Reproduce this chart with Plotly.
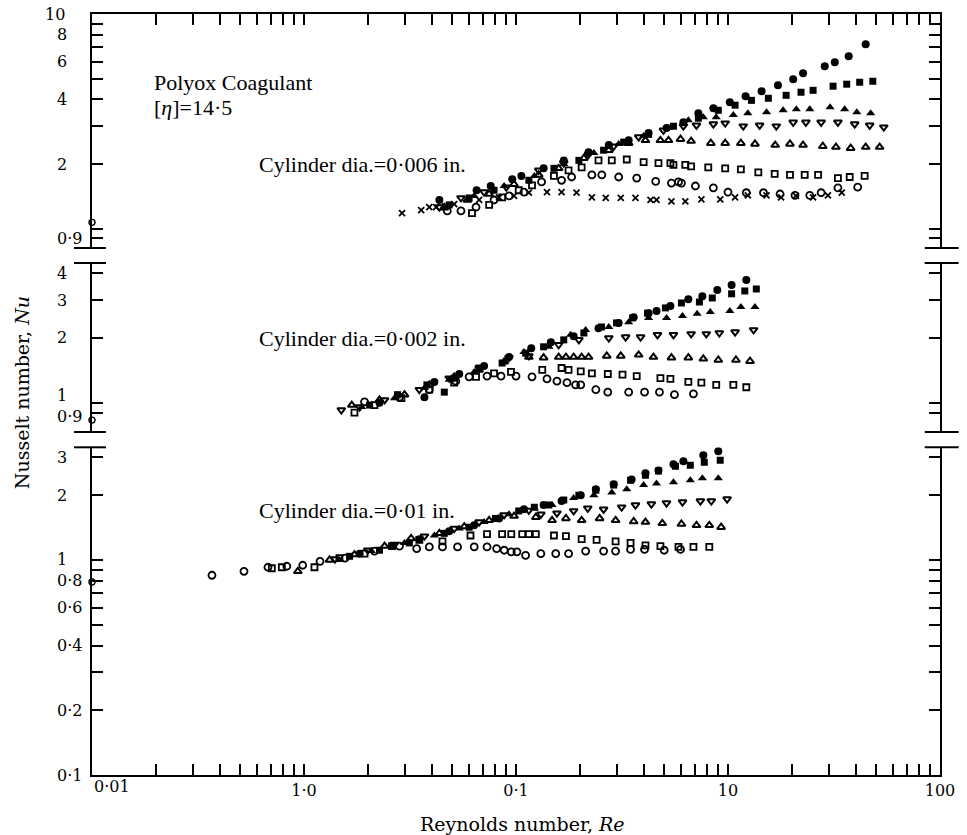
import math
import plotly.graph_objects as go

FONT = "Liberation Serif"
FONT2 = "DejaVu Serif"

# ---------------- data : Cylinder dia. = 0.006 in. (top panel) ----------------
T_FC_RE = [0.435,0.652,0.76,0.96,1.06,1.35,1.68,2.20,2.74,3.40,4.22,5.13,6.16,7.25,8.53,10.2,12.1,14.4,17.2,20.3,22.6,28.6,31.9,37.1,44.6]
T_FC_NU = [1.36,1.51,1.58,1.70,1.76,1.91,2.08,2.27,2.45,2.58,2.79,2.94,3.13,3.45,3.64,3.88,4.14,4.37,4.66,4.97,5.29,5.71,5.96,6.35,7.22]
T_FS_RE = [0.484,0.601,0.788,1.15,1.51,1.98,2.59,3.22,4.22,5.53,7.25,9.0,10.8,12.9,15.5,18.8,22.1,25.2,31.3,36.3,41.8,48.2]
T_FS_NU = [1.29,1.39,1.51,1.68,1.91,2.08,2.32,2.53,2.75,3.00,3.27,3.56,3.76,3.96,4.05,4.18,4.32,4.41,4.61,4.71,4.81,4.86]
T_FT_RE = [0.459,0.635,0.879,1.22,1.68,2.33,3.05,4.0,5.24,6.5,7.65,8.8,10.6,12.4,15.2,18.2,21.0,24.3,30.3,35.5,40.5,47.1]
T_FT_NU = [1.27,1.42,1.58,1.76,2.0,2.25,2.48,2.70,2.94,3.20,3.30,3.30,3.38,3.45,3.49,3.56,3.60,3.60,3.68,3.60,3.49,3.45]
T_OD_RE = [0.435,0.55,0.707,0.90,1.28,1.68,2.20,2.89,3.79,4.96,6.16,7.1,8.53,9.7,11.8,14.1,16.9,20.3,23.3,27.5,33.0,39.6,46.6,54.3]
T_OD_NU = [1.26,1.39,1.48,1.56,1.87,2.02,2.22,2.42,2.67,2.87,3.0,3.03,3.07,3.10,3.0,3.03,3.0,3.13,3.13,3.13,3.13,3.07,3.03,2.97]
T_OT_RE = [0.459,0.59,0.747,0.979,1.28,1.59,2.09,2.74,3.40,4.08,4.8,5.24,5.97,6.7,8.3,9.7,11.5,13.4,16.7,19.6,22.6,28.0,32.3,37.9,44.6,51.9]
T_OT_NU = [1.25,1.36,1.45,1.61,1.78,1.91,2.13,2.32,2.50,2.58,2.58,2.58,2.61,2.56,2.50,2.50,2.50,2.48,2.45,2.48,2.45,2.42,2.40,2.37,2.40,2.40]
T_OS_RE = [0.62,0.747,0.86,1.03,1.19,1.51,1.77,2.04,2.45,2.83,3.33,4.0,4.7,5.35,5.53,6.29,6.7,8.07,9.7,11.5,13.9,16.6,19.6,23.0,26.6,33.0,37.5,44.1]
T_OS_NU = [1.18,1.29,1.40,1.51,1.59,1.76,1.87,1.93,2.08,2.08,2.10,2.04,2.02,2.02,1.98,1.98,1.95,1.93,1.91,1.89,1.83,1.80,1.78,1.78,1.78,1.72,1.74,1.76]
T_OC_RE = [0.474,0.55,0.648,0.788,0.927,1.09,1.32,1.64,1.83,2.28,2.54,3.05,3.71,4.56,5.41,5.84,6.03,7.02,8.53,10.0,12.2,14.7,17.6,20.7,24.3,27.5,33.0,40.9]
T_OC_NU = [1.21,1.21,1.26,1.36,1.42,1.48,1.65,1.68,1.74,1.78,1.78,1.74,1.72,1.66,1.63,1.65,1.63,1.58,1.55,1.48,1.47,1.47,1.45,1.43,1.43,1.47,1.55,1.56]
T_XX_RE = [0.29,0.357,0.39,0.42,0.464,0.511,0.67,0.832,0.979,1.15,1.40,1.64,1.93,2.28,2.65,3.12,3.66,4.31,4.60,5.41,6.29,7.49,9.19,10.8,12.4,15.2,17.8,20.9,25.2,29.6,34.4]
T_XX_NU = [1.18,1.22,1.26,1.26,1.27,1.30,1.36,1.40,1.42,1.47,1.48,1.48,1.47,1.40,1.39,1.39,1.39,1.36,1.36,1.34,1.34,1.37,1.37,1.40,1.43,1.43,1.40,1.42,1.40,1.43,1.47]

# ---------------- data : Cylinder dia. = 0.002 in. (middle panel) ----------------
M_FC_RE = [0.227,0.37,0.412,0.54,0.707,0.927,1.18,1.46,1.87,2.45,3.05,3.59,4.22,4.6,5.35,6.5,7.57,8.9,10.4,12.2]
M_FC_NU = [1.00,1.06,1.25,1.36,1.48,1.63,1.79,1.91,2.04,2.22,2.35,2.50,2.61,2.67,2.82,3.03,3.13,3.34,3.53,3.72]
M_FS_RE = [0.204,0.276,0.38,0.459,0.511,0.67,0.86,1.11,1.35,1.68,2.09,2.53,2.98,3.55,4.17,5.07,6.03,7.33,8.43,10.4,12.0,13.6]
M_FS_NU = [0.975,1.09,1.21,1.12,1.30,1.45,1.53,1.70,1.82,1.96,2.11,2.25,2.35,2.48,2.61,2.76,2.91,2.94,3.07,3.21,3.31,3.38]
M_FT_RE = [0.187,0.267,0.37,0.484,0.635,0.879,1.09,1.43,1.81,2.13,2.74,3.40,4.22,5.13,6.1,7.15,8.25,10.2,11.5,13.4]
M_FT_NU = [0.955,1.05,1.17,1.28,1.39,1.55,1.72,1.82,2.07,2.18,2.25,2.37,2.48,2.48,2.53,2.59,2.64,2.67,2.79,2.79]
M_OD_RE = [0.150,0.183,0.24,0.35,0.484,0.67,0.927,1.15,1.59,1.98,2.74,3.29,3.87,4.65,5.53,6.7,7.9,9.1,10.8,13.2]
M_OD_NU = [0.925,0.955,1.03,1.15,1.30,1.45,1.62,1.65,1.86,1.96,2.0,2.02,2.02,2.07,2.07,2.09,2.09,2.11,2.13,2.18]
M_OT_RE = [0.168,0.227,0.298,0.39,0.511,0.67,0.879,1.15,1.35,1.59,1.72,1.87,2.04,2.20,2.68,3.12,3.79,4.45,5.41,6.5,7.65,9.0,10.9,12.7]
M_OT_NU = [0.975,1.03,1.09,1.21,1.32,1.42,1.55,1.63,1.62,1.63,1.63,1.63,1.63,1.63,1.65,1.65,1.67,1.63,1.62,1.62,1.60,1.58,1.58,1.56]
M_OS_RE = [0.173,0.215,0.288,0.39,0.511,0.648,0.788,0.947,1.33,1.64,1.77,2.02,2.28,2.71,3.18,3.71,4.80,5.35,6.5,7.49,8.8,10.6,12.2]
M_OS_NU = [0.90,0.975,1.05,1.15,1.24,1.32,1.37,1.39,1.42,1.45,1.42,1.40,1.37,1.36,1.35,1.33,1.30,1.29,1.25,1.24,1.21,1.21,1.18]
M_OC_RE = [0.193,0.282,0.39,0.52,0.601,0.73,0.85,1.0,1.19,1.40,1.56,1.74,1.91,2.02,2.38,2.71,3.40,4.04,4.75,5.59,6.87]
M_OC_NU = [1.01,1.06,1.15,1.26,1.32,1.33,1.33,1.33,1.32,1.29,1.26,1.24,1.21,1.21,1.15,1.12,1.12,1.12,1.12,1.09,1.10]

# ---------------- data : Cylinder dia. = 0.01 in. (bottom panel) ----------------
B_FC_RE = [0.183,0.26,0.35,0.484,0.635,0.832,1.09,1.35,1.64,2.02,2.38,2.89,3.51,4.08,4.70,5.53,6.16,7.65,9.0]
B_FC_NU = [1.07,1.16,1.25,1.36,1.45,1.56,1.72,1.80,1.88,2.0,2.13,2.25,2.37,2.53,2.61,2.79,2.88,3.07,3.20]
B_FS_RE = [0.164,0.227,0.314,0.459,0.601,0.80,1.03,1.22,1.43,1.68,1.98,2.38,2.89,3.47,4.08,4.70,5.65,6.64,7.73,9.19]
B_FS_NU = [1.04,1.11,1.20,1.33,1.42,1.56,1.69,1.76,1.80,1.90,2.0,2.11,2.23,2.35,2.48,2.59,2.73,2.76,2.85,2.91]
B_FT_RE = [0.147,0.208,0.298,0.412,0.54,0.707,0.927,1.22,1.48,1.87,2.33,2.83,3.33,4.0,4.6,5.53,6.64,7.57,9.0]
B_FT_NU = [1.0,1.10,1.20,1.30,1.40,1.50,1.63,1.74,1.80,1.94,2.0,2.06,2.13,2.23,2.27,2.30,2.35,2.40,2.40]
B_OD_RE = [0.14,0.20,0.267,0.37,0.511,0.67,0.879,1.15,1.31,1.56,1.87,2.18,2.59,3.15,3.66,4.35,5.13,6.1,7.41,8.34,9.9]
B_OD_NU = [1.01,1.11,1.18,1.29,1.40,1.50,1.62,1.70,1.63,1.65,1.69,1.74,1.72,1.76,1.80,1.82,1.84,1.86,1.88,1.88,1.92]
B_OT_RE = [0.0935,0.132,0.173,0.24,0.32,0.435,0.57,0.747,0.979,1.24,1.48,1.72,2.04,2.48,2.95,3.59,4.08,4.90,6.03,7.1,8.16,9.28]
B_OT_NU = [0.886,1.0,1.06,1.16,1.26,1.33,1.43,1.53,1.60,1.58,1.53,1.56,1.53,1.56,1.53,1.51,1.50,1.48,1.47,1.45,1.45,1.42]
B_OS_RE = [0.0705,0.0786,0.112,0.147,0.193,0.26,0.35,0.45,0.61,0.73,0.86,0.95,1.07,1.15,1.24,1.51,1.72,2.04,2.40,2.95,3.47,4.08,4.80,5.84,6.87,8.16]
B_OS_NU = [0.915,0.925,0.925,1.02,1.07,1.16,1.24,1.22,1.30,1.32,1.32,1.32,1.32,1.32,1.32,1.30,1.29,1.25,1.24,1.22,1.20,1.17,1.16,1.15,1.15,1.15]
B_OC_RE = [0.0368,0.0521,0.0676,0.083,0.0986,0.119,0.156,0.215,0.282,0.34,0.39,0.45,0.53,0.635,0.73,0.81,0.88,0.95,1.01,1.11,1.31,1.54,1.77,2.13,2.59,2.95,3.47,4.04,5.0,5.97]
B_OC_NU = [0.849,0.886,0.925,0.935,0.945,0.986,1.02,1.10,1.16,1.13,1.15,1.15,1.15,1.15,1.15,1.13,1.11,1.09,1.09,1.05,1.07,1.07,1.07,1.10,1.10,1.10,1.12,1.12,1.11,1.12]

# open circles sitting on the left axis of each panel
AXIS_RE = [0.01]
AXIS_NU_TOP = [1.07]
AXIS_NU_MID = [0.83]
AXIS_NU_BOT = [0.79]

# ---------------- axis ticks / labels ----------------
X_TICKS = [0.01,0.02,0.03,0.04,0.05,0.06,0.07,0.08,0.09,
           0.1,0.2,0.3,0.4,0.5,0.6,0.7,0.8,0.9,
           1,2,3,4,5,6,7,8,9,
           10,20,30,40,50,60,70,80,90,100]
X_LABELS = [""]*9 + ["1·0"] + [""]*8 + ["0·1"] + [""]*8 + ["10"] + [""]*8 + ["100"]
X_FIRST_LABEL = "0·01"

YT_TICKS = [0.9,1,2,3,4,5,6,7,8,9,10]
YT_LAB_VALS = [10, 8, 6, 4, 2, 0.9]
YT_LABELS = ["10", "8", "6", "4", "2", "0·9"]
YM_TICKS = [0.9,1,2,3,4]
YM_LAB_VALS = [4, 3, 2, 1.08, 0.86]
YM_LABELS = ["4", "3", "2", "1", "0·9"]
YB_TICKS = [0.1,0.2,0.3,0.4,0.5,0.6,0.7,0.8,0.9,1,2,3]
YB_LAB_VALS = [3, 2, 1, 0.8, 0.6, 0.4, 0.2, 0.1]
YB_LABELS = ["3", "2", "1", "0·8", "0·6", "0·4", "0·2", "0·1"]

STYLES = {
    "fc": dict(symbol="circle", size=8, line=dict(width=0)),
    "fs": dict(symbol="square", size=7, line=dict(width=0)),
    "ft": dict(symbol="triangle-up", size=8, line=dict(width=0)),
    "od": dict(symbol="triangle-down-open", size=7, line=dict(width=2)),
    "ot": dict(symbol="triangle-up-open", size=7, line=dict(width=2)),
    "os": dict(symbol="square-open", size=6, line=dict(width=1.8)),
    "oc": dict(symbol="circle-open", size=7, line=dict(width=1.8)),
    "xx": dict(symbol="x-thin-open", size=6, line=dict(width=1.8)),
}

PANELS = {"top": ("x2", "y"), "mid": ("x", "y2"), "bot": ("x", "y3")}

DATA = [
    ("top", "fc", T_FC_RE, T_FC_NU), ("top", "fs", T_FS_RE, T_FS_NU),
    ("top", "ft", T_FT_RE, T_FT_NU), ("top", "od", T_OD_RE, T_OD_NU),
    ("top", "ot", T_OT_RE, T_OT_NU), ("top", "os", T_OS_RE, T_OS_NU),
    ("top", "oc", T_OC_RE, T_OC_NU), ("top", "xx", T_XX_RE, T_XX_NU),
    ("mid", "fc", M_FC_RE, M_FC_NU), ("mid", "fs", M_FS_RE, M_FS_NU),
    ("mid", "ft", M_FT_RE, M_FT_NU), ("mid", "od", M_OD_RE, M_OD_NU),
    ("mid", "ot", M_OT_RE, M_OT_NU), ("mid", "os", M_OS_RE, M_OS_NU),
    ("mid", "oc", M_OC_RE, M_OC_NU),
    ("bot", "fc", B_FC_RE, B_FC_NU), ("bot", "fs", B_FS_RE, B_FS_NU),
    ("bot", "ft", B_FT_RE, B_FT_NU), ("bot", "od", B_OD_RE, B_OD_NU),
    ("bot", "ot", B_OT_RE, B_OT_NU), ("bot", "os", B_OS_RE, B_OS_NU),
    ("bot", "oc", B_OC_RE, B_OC_NU),
]

fig = go.Figure()
for panel, key, xs, ys in DATA:
    xa, ya = PANELS[panel]
    fig.add_trace(go.Scatter(x=xs, y=ys, mode="markers", xaxis=xa, yaxis=ya,
                             marker=dict(color="black", **STYLES[key]),
                             showlegend=False, hoverinfo="x+y"))

for panel, nu in (("top", AXIS_NU_TOP), ("mid", AXIS_NU_MID), ("bot", AXIS_NU_BOT)):
    xa, ya = PANELS[panel]
    fig.add_trace(go.Scatter(x=AXIS_RE, y=nu, mode="markers", xaxis=xa, yaxis=ya,
                             cliponaxis=False,
                             marker=dict(symbol="circle-open", size=6, color="black",
                                         line=dict(width=1.4)),
                             showlegend=False))

LINE = dict(showline=True, linecolor="black", linewidth=2, showgrid=False,
            zeroline=False, ticks="inside", ticklen=11, tickwidth=1.6,
            tickcolor="black")
XFONT = dict(family=FONT2, size=16, color="black")

# domains (fractions of plot height)
D_TOP = [0.6925, 1.0]
D_MID = [0.4507, 0.6728]
D_BOT = [0.0, 0.4306]

fig.update_layout(
    width=967, height=835,
    margin=dict(l=92, r=24, t=14, b=60),
    paper_bgcolor="white", plot_bgcolor="white",
    font=dict(family=FONT, color="black"),
    xaxis=dict(type="log", range=[-2, 2], domain=[0, 1], anchor="y3",
               tickvals=X_TICKS, ticktext=X_LABELS, tickfont=XFONT, **LINE),
    xaxis2=dict(type="log", range=[-2, 2], domain=[0, 1], anchor="y", side="top",
                matches="x", tickvals=X_TICKS, ticktext=[""]*len(X_TICKS),
                showticklabels=False, **LINE),
    yaxis=dict(type="log", range=[-0.0902, 1.0], domain=D_TOP, anchor="x2",
               mirror="ticks", tickvals=YT_TICKS, showticklabels=False, **LINE),
    yaxis2=dict(type="log", range=[-0.1363, 0.6498], domain=D_MID, anchor="x",
                mirror="ticks", tickvals=YM_TICKS, showticklabels=False, **LINE),
    yaxis3=dict(type="log", range=[-1.0, 0.524], domain=D_BOT, anchor="x",
                mirror="ticks", tickvals=YB_TICKS, showticklabels=False, **LINE),
)

# axis-break caps
shapes = []
for yb in (D_TOP[0], D_MID[1], D_MID[0], D_BOT[1]):
    for x0, x1 in ((-0.0212, 0.0165), (0.982, 1.022)):
        shapes.append(dict(type="line", xref="paper", yref="paper", x0=x0, x1=x1,
                           y0=yb, y1=yb, line=dict(color="black", width=2)))
fig.update_layout(shapes=shapes)

ann_font = dict(family=FONT, size=22, color="black")
title_font = dict(family=FONT2, size=19, color="black")
annotations = [
    dict(text="Polyox Coagulant", x=0.0705, y=0.9106, xanchor="left", yanchor="middle", font=ann_font),
    dict(text="[<i>η</i>]=14·5", x=0.0705, y=0.8765, xanchor="left", yanchor="middle", font=ann_font),
    dict(text="Cylinder dia.=0·006 in.", x=0.195, y=0.8016, xanchor="left", yanchor="middle", font=ann_font),
    dict(text="Cylinder dia.=0·002 in.", x=0.195, y=0.5742, xanchor="left", yanchor="middle", font=ann_font),
    dict(text="Cylinder dia.=0·01 in.", x=0.195, y=0.3482, xanchor="left", yanchor="middle", font=ann_font),
    dict(text="Nusselt number, <i>Nu</i>", x=-0.0823, y=0.502, textangle=-90,
         xanchor="center", yanchor="middle", font=title_font),
    dict(text="Reynolds number, <i>Re</i>", x=0.508, y=-0.064, xanchor="center",
         yanchor="middle", font=title_font),
    dict(text=X_FIRST_LABEL, x=0.0, y=-0.0155, xanchor="left", yanchor="middle",
         font=XFONT),
]

YLAB_FONT = dict(family=FONT2, size=16, color="black")
for yref, vals, labs in (("y", YT_LAB_VALS, YT_LABELS),
                         ("y2", YM_LAB_VALS, YM_LABELS),
                         ("y3", YB_LAB_VALS, YB_LABELS)):
    for v, t in zip(vals, labs):
        annotations.append(dict(text=t, x=-0.0435 if t != "10" else -0.058,
                                y=math.log10(v), yref=yref, xanchor="left",
                                yanchor="middle", font=YLAB_FONT))

for a in annotations:
    a.setdefault("yref", "paper")
    a.update(xref="paper", showarrow=False)
fig.update_layout(annotations=annotations)

fig.write_html("out.html")
